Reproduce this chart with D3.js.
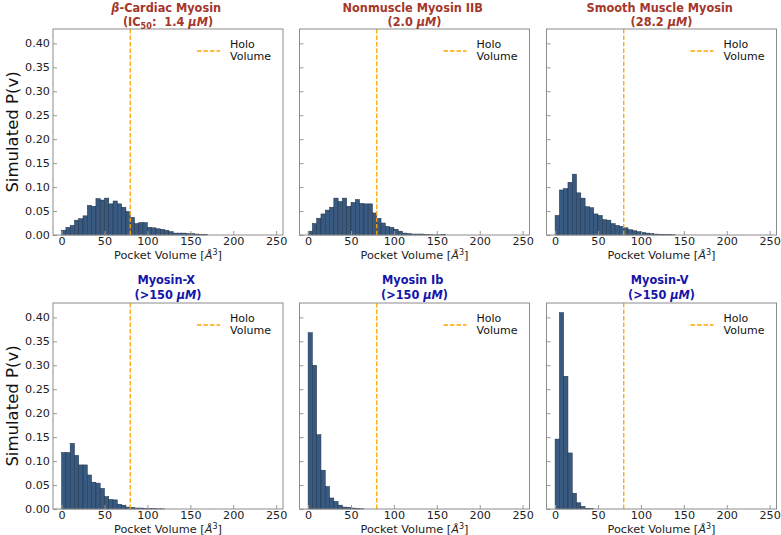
<!DOCTYPE html>
<html>
<head>
<meta charset="utf-8">
<script src="https://cdn.jsdelivr.net/npm/d3@7"></script>
<style>
  body { margin: 0; background: #fff; }
  text { font-family: "DejaVu Sans", sans-serif; }
</style>
</head>
<body>
<div id="chart"></div>
<script>
const BIN = 5;
const HOLO = 80;
const Y_TICKS = [0, 0.05, 0.10, 0.15, 0.20, 0.25, 0.30, 0.35, 0.40];
const X_TICKS = [0, 50, 100, 150, 200, 250];

const names = ['β-Cardiac Myosin', 'Nonmuscle Myosin IIB', 'Smooth Muscle Myosin',
  'Myosin-X', 'Myosin Ib', 'Myosin-V'];
const ic50 = ['1.4', '2.0', '28.2', '>150', '>150', '>150'];

// histogram heights, bins of 5 A^3 starting at 0
const cardiac = [0.010, 0.016, 0.020, 0.031, 0.034, 0.040, 0.062, 0.060, 0.076, 0.073,
  0.077, 0.065, 0.071, 0.065, 0.058, 0.049, 0.037, 0.024, 0.026, 0.026, 0.016, 0.015,
  0.013, 0.012, 0.010, 0.007, 0.004, 0.004, 0.004, 0.003, 0.003, 0.002, 0.001, 0.001];
const nonmuscle = [0.008, 0.024, 0.035, 0.044, 0.052, 0.058, 0.077, 0.070, 0.077, 0.060,
  0.068, 0.074, 0.066, 0.065, 0.065, 0.046, 0.035, 0.025, 0.018, 0.016, 0.012, 0.008,
  0.004, 0.003, 0.002, 0.002, 0.002, 0.001, 0.0005, 0.0003, 0.0003, 0.001];
const smooth = [0.041, 0.094, 0.097, 0.110, 0.127, 0.088, 0.077, 0.059, 0.057, 0.044,
  0.041, 0.032, 0.031, 0.024, 0.020, 0.018, 0.015, 0.011, 0.009, 0.007, 0.0055, 0.004,
  0.003, 0.002, 0.0015, 0.001, 0.0007, 0.0005];
const myosinX = [0.118, 0.118, 0.137, 0.112, 0.092, 0.092, 0.071, 0.056, 0.054, 0.043,
  0.026, 0.020, 0.019, 0.010, 0.008, 0.004, 0.0035, 0.002, 0.002, 0.0014, 0.0008,
  0.0006, 0.0005, 0.0004];
const myosinIb = [0.368, 0.300, 0.155, 0.081, 0.047, 0.023, 0.016, 0.008, 0.004, 0.0035,
  0.002, 0.001, 0.0005];
const myosinV = [0.146, 0.410, 0.277, 0.117, 0.033, 0.013, 0.0055, 0.0015, 0.0007];

const series = [cardiac, nonmuscle, smooth, myosinX, myosinIb, myosinV];
const titleColors = ['#a5372a', '#a5372a', '#a5372a', '#1515aa', '#1515aa', '#1515aa'];

const width = 781, height = 535;
const pw = 230, ph = 206;
const colX = [53, 299.5, 546.5];
const rowY = [29, 303];
const titleY = [[-17.5, -3], [-19, -4]];

const svg = d3.select('#chart').append('svg')
  .attr('width', width)
  .attr('height', height);

const x = d3.scaleLinear().domain([-10, 258]).range([0, pw]);
const y = d3.scaleLinear().domain([0, 0.43]).range([ph, 0]);

const dash = '4.5,2';
const NB = '\u00a0';

series.forEach((vals, i) => {
  const col = i % 3, row = Math.floor(i / 3);
  const g = svg.append('g')
    .attr('transform', `translate(${colX[col]},${rowY[row]})`);

  // bars
  g.selectAll('rect.bar')
    .data(vals)
    .enter().append('rect')
    .attr('class', 'bar')
    .attr('x', (_, k) => x(k * BIN))
    .attr('width', x(BIN) - x(0))
    .attr('y', d => y(d))
    .attr('height', d => y(0) - y(d))
    .attr('fill', '#395a80')
    .attr('stroke', '#1f3047')
    .attr('stroke-width', 0.5);

  // holo volume line
  g.append('line')
    .attr('x1', x(HOLO)).attr('x2', x(HOLO))
    .attr('y1', 0).attr('y2', ph)
    .attr('stroke', '#ffa500')
    .attr('stroke-width', 1.3)
    .attr('stroke-dasharray', dash);

  // axes
  const xAxis = g.append('g')
    .attr('transform', `translate(0,${ph})`)
    .call(d3.axisBottom(x).tickValues(X_TICKS).tickSizeInner(-4).tickSizeOuter(0).tickPadding(2.5));
  const yAxis = g.append('g')
    .call(d3.axisLeft(y).tickValues(Y_TICKS).tickFormat(col === 0 ? d3.format('.2f') : '')
      .tickSizeInner(-4).tickSizeOuter(0).tickPadding(3));
  [xAxis, yAxis].forEach(a => {
    a.select('.domain').remove();
    a.selectAll('line').attr('stroke', '#999');
    a.selectAll('text').attr('font-size', 11.2).attr('fill', '#222')
      .attr('font-family', '"DejaVu Sans", sans-serif');
  });

  // frame
  g.append('rect')
    .attr('width', pw).attr('height', ph)
    .attr('fill', 'none')
    .attr('stroke', '#8c8c8c')
    .attr('stroke-width', 1);

  // legend
  g.append('line')
    .attr('x1', 144).attr('x2', 167)
    .attr('y1', 22).attr('y2', 22)
    .attr('stroke', '#ffa500')
    .attr('stroke-width', 1.3)
    .attr('stroke-dasharray', dash);
  const leg = g.append('text').attr('font-size', 11).attr('fill', '#111');
  leg.append('tspan').attr('x', 177).attr('y', 19).text('Holo');
  leg.append('tspan').attr('x', 177).attr('y', 31).text('Volume');

  // x label
  const xl = g.append('text')
    .attr('x', pw / 2).attr('y', ph + 23.5)
    .attr('text-anchor', 'middle')
    .attr('font-size', 11.3)
    .attr('fill', '#222');
  xl.append('tspan').text('Pocket Volume [');
  xl.append('tspan').attr('font-style', 'italic').text('Å');
  xl.append('tspan').attr('font-size', 8).attr('dy', -4).text('3');
  xl.append('tspan').attr('dy', 4).text(']');

  // title, slightly condensed like the original
  const tfont = '"Liberation Sans", Arial, sans-serif';
  const tg = g.append('g')
    .attr('transform', `translate(${pw / 2},0) scale(0.9,1)`)
    .attr('font-family', tfont)
    .attr('font-size', 12.6)
    .attr('font-weight', 'bold')
    .attr('fill', titleColors[i]);
  const l1 = tg.append('text')
    .attr('x', -2).attr('y', titleY[row][0])
    .attr('text-anchor', 'middle');
  if (names[i].startsWith('β')) {
    l1.append('tspan').attr('font-style', 'italic').text('β');
    l1.append('tspan').text(names[i].slice(1));
  } else {
    l1.text(names[i]);
  }
  const l2 = tg.append('text')
    .attr('x', 0).attr('y', titleY[row][1])
    .attr('text-anchor', 'middle');
  if (i === 0) {
    l2.append('tspan').text('(IC');
    l2.append('tspan').attr('font-size', 9).attr('dy', 2.5).text('50');
    l2.append('tspan').attr('dy', -2.5).text(':' + NB + NB + ic50[i] + NB);
  } else {
    l2.append('tspan').text('(' + ic50[i] + NB);
  }
  l2.append('tspan').attr('font-style', 'italic').text('μM');
  l2.append('tspan').text(')');

  // y label
  if (col === 0) {
    svg.append('text')
      .attr('transform', `translate(18,${rowY[row] + ph / 2}) rotate(-90)`)
      .attr('text-anchor', 'middle')
      .attr('font-size', 16.5)
      .attr('fill', '#111')
      .text('Simulated P(v)');
  }
});
</script>
</body>
</html>
